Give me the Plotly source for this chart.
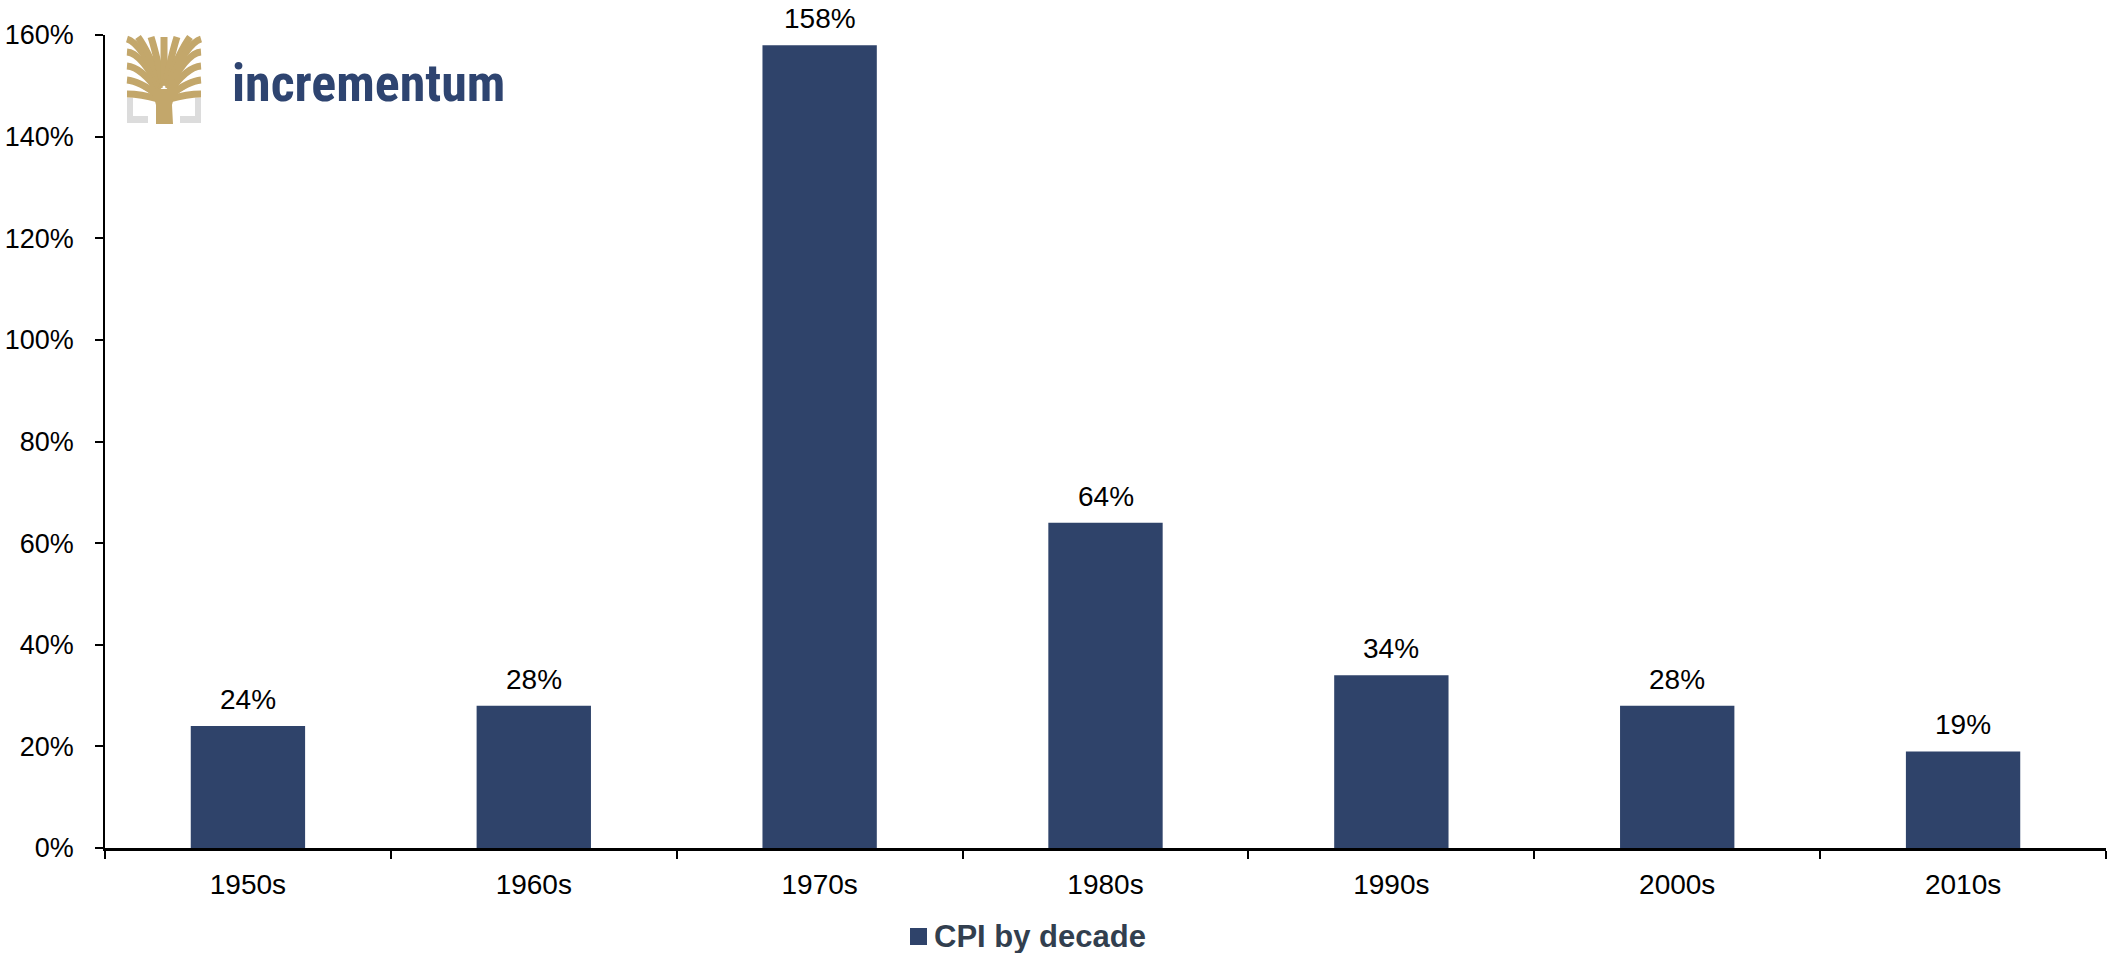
import plotly.graph_objects as go

# Cumulative CPI change per decade (%)
decades = ["1950s", "1960s", "1970s", "1980s", "1990s", "2000s", "2010s"]
cpi_change = [24, 28, 158, 64, 34, 28, 19]
y_ticks = [0, 20, 40, 60, 80, 100, 120, 140, 160]
y_tick_text = [f"{v}%" for v in y_ticks]
series_name = "CPI by decade"

BAR = "#2f436a"
GOLD = "#c3a76b"
GREY = "#dcdcdc"
NAVY = "#2e4470"

W, H = 2108, 953
ML, MR, MT, MB = 105, 2, 35, 105
PW, PH = W - ML - MR, H - MT - MB


def to_paper(x, y):
    """Convert page pixels to paper coordinates."""
    return (x - ML) / PW, (H - MB - y) / PH


# Logo icon drawn in local pixel space, origin at its top-left corner
ICON_X, ICON_Y = 127, 37


def pt(x, y):
    px, py = to_paper(ICON_X + x, ICON_Y + y)
    return f"{px:.5f},{py:.5f}"


fig = go.Figure()
fig.add_trace(go.Bar(
    x=decades, y=cpi_change, name=series_name,
    marker=dict(color=BAR, line=dict(width=0)),
    showlegend=False,
))

shapes = []
annotations = []

# Value labels above bars
for d, v in zip(decades, cpi_change):
    annotations.append(dict(
        x=d, y=v, xref="x", yref="y", text=f"{v}%", showarrow=False,
        yanchor="bottom", yshift=9,
        font=dict(family="Liberation Sans, Arial", size=28, color="#000000"),
    ))

# Legend: square marker + label
sx0, sy0 = to_paper(910, 945)
sx1, sy1 = to_paper(927, 928)
shapes.append(dict(type="rect", xref="paper", yref="paper", x0=sx0, y0=sy0,
                   x1=sx1, y1=sy1, fillcolor=BAR, line=dict(width=0)))
lx, ly = to_paper(932, 936)
annotations.append(dict(
    x=lx, y=ly, xref="paper", yref="paper", text=f"<b>{series_name}</b>",
    showarrow=False, xanchor="left", yanchor="middle",
    font=dict(family="Liberation Sans, Arial", size=31, color="#323f4f"),
))

# Logo: tree canopy strokes
branches = [
    # left side
    ((31, 62), (14, 57), (0, 57)),
    ((31, 58), (12, 44), (0, 43)),
    ((32, 55), (14, 30), (0, 29)),
    ((33, 52), (14, 16), (0, 15)),
    ((34, 50), (14, 6), (0, 2)),
    # top
    ((35, 48), (20, 12), (11, 0)),
    ((36, 48), (28, 12), (24, 0)),
    ((37, 48), (37, 12), (37, 0)),
    ((38, 48), (46, 12), (50, 0)),
    ((39, 48), (54, 12), (63, 0)),
    # right side
    ((40, 50), (60, 6), (74, 2)),
    ((41, 52), (60, 16), (74, 15)),
    ((42, 55), (60, 30), (74, 29)),
    ((43, 58), (62, 44), (74, 43)),
    ((43, 62), (60, 57), (74, 57)),
]
for (a, c, b) in branches:
    shapes.append(dict(
        type="path", xref="paper", yref="paper",
        path=f"M{pt(*a)} Q{pt(*c)} {pt(*b)}",
        line=dict(color=GOLD, width=7),
    ))

# trunk
shapes.append(dict(
    type="path", xref="paper", yref="paper",
    path=(f"M{pt(29, 87)} L{pt(46, 87)} L{pt(45, 68)} Q{pt(46, 58)} {pt(58, 52)} "
          f"L{pt(16, 52)} Q{pt(28, 58)} {pt(29, 68)} Z"),
    fillcolor=GOLD, line=dict(width=0),
))

# grey base brackets
for (x0, y0, x1, y1) in [(0, 61, 6, 86), (0, 79, 21, 86), (68, 61, 74, 86), (53, 79, 74, 86)]:
    px0, py0 = to_paper(ICON_X + x0, ICON_Y + y1)
    px1, py1 = to_paper(ICON_X + x1, ICON_Y + y0)
    shapes.append(dict(type="rect", xref="paper", yref="paper", x0=px0, y0=py0,
                       x1=px1, y1=py1, fillcolor=GREY, line=dict(width=0), layer="below"))

# Logo word mark
wx, wy = to_paper(230, 84)
annotations.append(dict(
    x=wx, y=wy, xref="paper", yref="paper", text="<b>incrementum</b>",
    showarrow=False, xanchor="left", yanchor="middle",
    font=dict(family="Liberation Sans Narrow, Roboto Condensed, Roboto", size=52, color=NAVY),
))

fig.update_layout(
    width=W, height=H,
    margin=dict(l=ML, r=MR, t=MT, b=MB, pad=0),
    paper_bgcolor="white", plot_bgcolor="white",
    bargap=0.6,
    showlegend=False,
    shapes=shapes,
    annotations=annotations,
    font=dict(family="Liberation Sans, Arial", size=27, color="#000000"),
)
fig.update_xaxes(
    type="category", showgrid=False, showline=True, linecolor="#000000", linewidth=2.5,
    ticks="outside", tickson="boundaries", ticklen=8, tickwidth=1.5, tickcolor="#000000",
    ticklabelstandoff=10,
    tickfont=dict(family="Liberation Sans, Arial", size=28, color="#000000"),
)
fig.update_yaxes(
    range=[0, 160], tickvals=y_ticks, ticktext=y_tick_text,
    showgrid=False, zeroline=False, showline=True, linecolor="#000000", linewidth=1.5,
    ticks="outside", ticklen=8, tickwidth=1.5, tickcolor="#000000",
    ticklabelstandoff=16,
    tickfont=dict(family="Liberation Sans, Arial", size=27, color="#000000"),
)

fig.write_html("out.html")
